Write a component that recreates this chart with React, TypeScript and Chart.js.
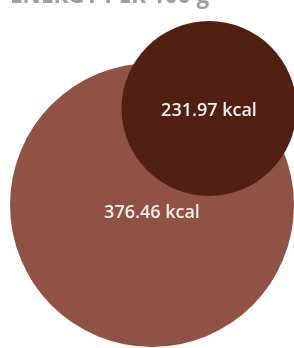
import React, { useEffect, useRef } from "react";
import { Chart, registerables } from "chart.js";

Chart.register(...registerables);

// ---- data ----
const categories = ["Product A", "Product B"];
const energyKcal = [376.46, 231.97];
const unitLabel = "kcal";
const titleText = "ENERGY PER 100 g";

// ---- layout (page pixels) ----
const CANVAS_OFFSET = 20;
const WIDTH = 294;
const HEIGHT = 348;
const LEFT_PAD = 10;
const centersX = [152, 209];
const centersY = [205, 108.5];
const PX_PER_KCAL = 142 / 376.46;
const labelDy = [8, 2];

const colors = ["#8F5245", "#512013"];

const labelPlugin = {
  id: "bubbleLabels",
  afterDatasetsDraw(chart: any) {
    const ctx = chart.ctx;
    const meta = chart.getDatasetMeta(0);
    ctx.save();
    ctx.font = '600 18px "Open Sans"';
    ctx.fillStyle = "#F6F0EE";
    ctx.textAlign = "center";
    ctx.textBaseline = "middle";
    meta.data.forEach((el: any, i: number) => {
      ctx.fillText(`${energyKcal[i]} ${unitLabel}`, el.x, el.y + labelDy[i]);
    });
    ctx.restore();
  },
};

export default function App() {
  const ref = useRef<HTMLCanvasElement | null>(null);
  useEffect(() => {
    if (!ref.current) return;
    const titleFont = 22.5;
    const titlePadTop = 3;
    const areaTopPage = -CANVAS_OFFSET + titlePadTop + titleFont * 1.2;
    const chart = new Chart(ref.current, {
      type: "bubble",
      data: {
        labels: categories,
        datasets: [
          {
            label: "Energy",
            data: energyKcal.map((v, i) => ({
              x: centersX[i],
              y: centersY[i],
              r: v * PX_PER_KCAL,
            })),
            backgroundColor: colors,
            hoverBackgroundColor: colors,
            borderWidth: 0,
            hoverBorderWidth: 0,
            clip: false as any,
          },
        ],
      },
      options: {
        animation: false,
        responsive: false,
        maintainAspectRatio: false,
        layout: { padding: { left: LEFT_PAD, right: 0, top: 0, bottom: 0 }, autoPadding: false },
        events: [],
        scales: {
          x: { display: false, min: LEFT_PAD, max: WIDTH },
          y: { display: false, min: areaTopPage, max: HEIGHT, reverse: true },
        },
        plugins: {
          legend: { display: false },
          tooltip: { enabled: false },
          title: {
            display: true,
            text: titleText,
            align: "start",
            color: "#9E9E9E",
            font: { family: '"Open Sans"', size: titleFont, weight: "bold" },
            padding: { top: titlePadTop, bottom: 0 },
          },
        },
      },
      plugins: [labelPlugin],
    });
    return () => chart.destroy();
  }, []);
  return (
    <div style={{ position: "fixed", left: 0, top: -CANVAS_OFFSET, width: WIDTH, height: HEIGHT + CANVAS_OFFSET }}>
      <canvas ref={ref} width={WIDTH} height={HEIGHT + CANVAS_OFFSET} style={{ width: WIDTH, height: HEIGHT + CANVAS_OFFSET }} />
    </div>
  );
}
